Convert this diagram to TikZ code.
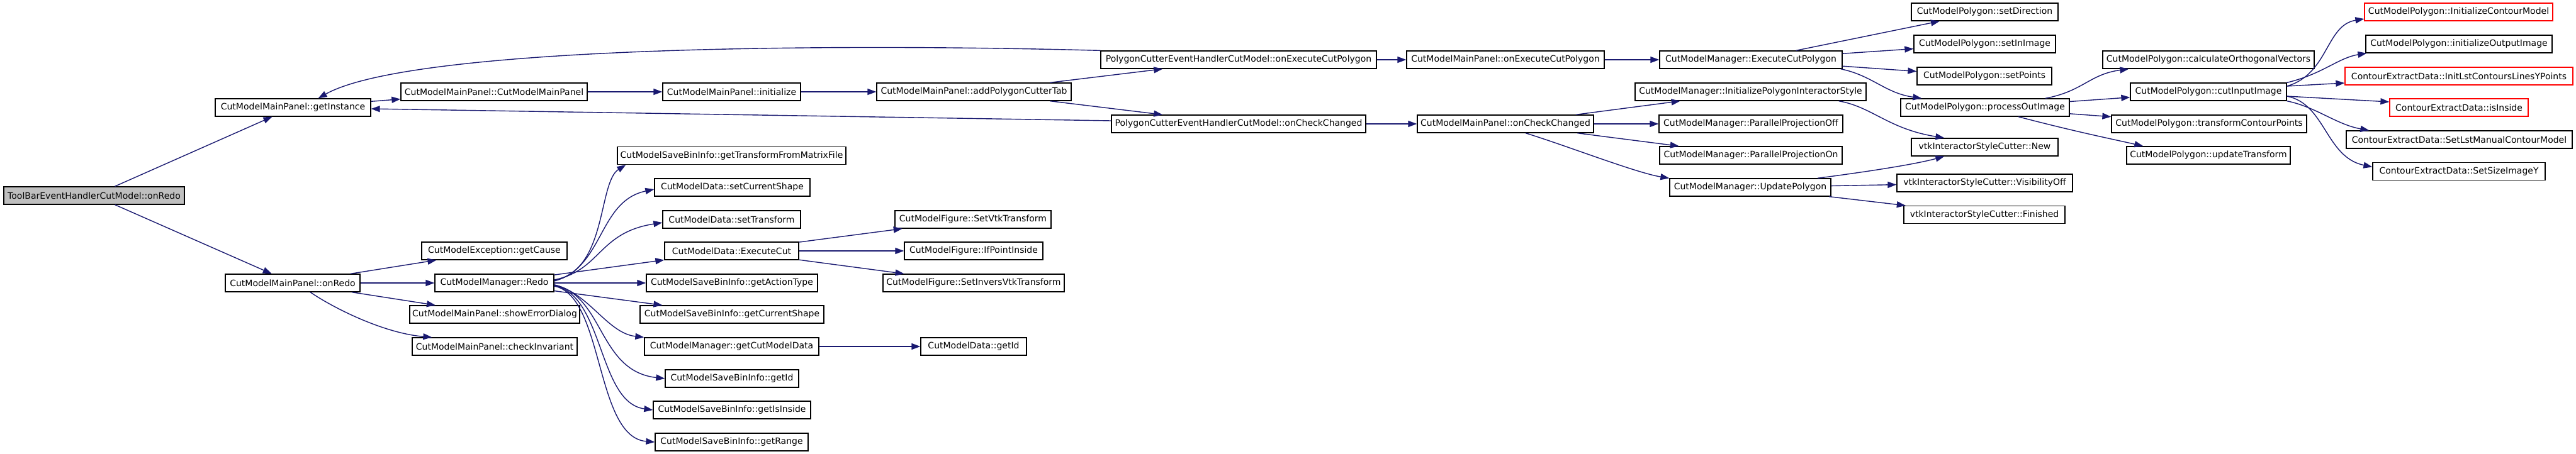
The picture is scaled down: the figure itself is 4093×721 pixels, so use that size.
\documentclass[tikz,border=0pt]{standalone}
\usepackage{fontspec}
\setmainfont{DejaVu Sans}
\usepackage{tikz}
\usetikzlibrary{arrows.meta}
\definecolor{edgeblue}{HTML}{191970}
\definecolor{rootgray}{HTML}{BFBFBF}

\begin{document}
\begin{tikzpicture}[x=1pt,y=1pt,
  fn/.style={draw=black,line width=1.3pt,fill=white,minimum height=28pt,inner xsep=1pt,inner ysep=0pt,font=\fontsize{14}{16}\selectfont},
  root/.style={fn,fill=rootgray},
  lost/.style={fn,draw=red},
  call/.style={draw=edgeblue,line width=1.4pt,-{Triangle[length=14pt,width=10pt]}}]
\useasboundingbox (0,0) rectangle (4093,-721);

% Callers of getInstance
\node[root,minimum width=287] (toolbar) at (149.5,-311) {ToolBarEventHandlerCutModel::onRedo};
\node[fn,minimum width=247] (getinst) at (465.5,-171) {CutModelMainPanel::getInstance};
\node[fn,minimum width=214] (onredo) at (465,-450) {CutModelMainPanel::onRedo};
\node[fn,minimum width=296] (cmmp) at (785,-146) {CutModelMainPanel::CutModelMainPanel};
\node[fn,minimum width=219] (init) at (1162.5,-146) {CutModelMainPanel::initialize};
\node[fn,minimum width=309] (addpct) at (1547.5,-146) {CutModelMainPanel::addPolygonCutterTab};
\node[fn,minimum width=438] (pcehexe) at (1968,-95) {PolygonCutterEventHandlerCutModel::onExecuteCutPolygon};
\node[fn,minimum width=404] (pcehchk) at (1968,-197) {PolygonCutterEventHandlerCutModel::onCheckChanged};
\node[fn,minimum width=314] (mpexe) at (2392,-95) {CutModelMainPanel::onExecuteCutPolygon};
\node[fn,minimum width=280] (mpchk) at (2392,-197) {CutModelMainPanel::onCheckChanged};

% Manager calls
\node[fn,minimum width=290] (mgrecp) at (2782,-95) {CutModelManager::ExecuteCutPolygon};
\node[fn,minimum width=367] (mgripis) at (2781.5,-146) {CutModelManager::InitializePolygonInteractorStyle};
\node[fn,minimum width=292] (mgrppoff) at (2782,-197) {CutModelManager::ParallelProjectionOff};
\node[fn,minimum width=290] (mgrppon) at (2782,-247) {CutModelManager::ParallelProjectionOn};
\node[fn,minimum width=256] (mgrupd) at (2781,-298) {CutModelManager::UpdatePolygon};
\node[fn,minimum width=233] (setdir) at (3153.5,-19) {CutModelPolygon::setDirection};
\node[fn,minimum width=225] (setinimg) at (3153.5,-70) {CutModelPolygon::setInImage};
\node[fn,minimum width=214] (setpts) at (3153,-121) {CutModelPolygon::setPoints};
\node[fn,minimum width=268] (procout) at (3154,-171) {CutModelPolygon::processOutImage};
\node[fn,minimum width=233] (stynew) at (3153.5,-234) {vtkInteractorStyleCutter::New};
\node[fn,minimum width=279] (styvis) at (3153.5,-291) {vtkInteractorStyleCutter::VisibilityOff};
\node[fn,minimum width=256] (styfin) at (3153,-341.5) {vtkInteractorStyleCutter::Finished};

% Polygon cutting
\node[fn,minimum width=336] (calcorth) at (3509,-95) {CutModelPolygon::calculateOrthogonalVectors};
\node[fn,minimum width=248] (cutin) at (3509,-146) {CutModelPolygon::cutInputImage};
\node[fn,minimum width=310] (trcont) at (3510,-197) {CutModelPolygon::transformContourPoints};
\node[fn,minimum width=260] (updtr) at (3509,-247) {CutModelPolygon::updateTransform};
\node[lost,minimum width=299] (initcm) at (3906.5,-19) {CutModelPolygon::InitializeContourModel};
\node[fn,minimum width=296] (initout) at (3907,-70) {CutModelPolygon::initializeOutputImage};
\node[lost,minimum width=362] (initlst) at (3907,-121) {ContourExtractData::InitLstContoursLinesYPoints};
\node[lost,minimum width=220] (isin) at (3907,-171) {ContourExtractData::isInside};
\node[fn,minimum width=359] (setlst) at (3907.5,-222) {ContourExtractData::SetLstManualContourModel};
\node[fn,minimum width=274] (setsize) at (3907,-272.5) {ContourExtractData::SetSizeImageY};

% Redo branch
\node[fn,minimum width=231] (cause) at (785.5,-399) {CutModelException::getCause};
\node[fn,minimum width=189] (redo) at (785.5,-450) {CutModelManager::Redo};
\node[fn,minimum width=270] (errdlg) at (786,-500) {CutModelMainPanel::showErrorDialog};
\node[fn,minimum width=262] (chkinv) at (786,-551) {CutModelMainPanel::checkInvariant};
\node[fn,minimum width=363] (gtfm) at (1162.5,-247.5) {CutModelSaveBinInfo::getTransformFromMatrixFile};
\node[fn,minimum width=247] (scs) at (1163.5,-298) {CutModelData::setCurrentShape};
\node[fn,minimum width=219] (str) at (1162.5,-349) {CutModelData::setTransform};
\node[fn,minimum width=213] (exec) at (1162.5,-399) {CutModelData::ExecuteCut};
\node[fn,minimum width=272] (gat) at (1163,-450) {CutModelSaveBinInfo::getActionType};
\node[fn,minimum width=292] (gcs) at (1163,-500) {CutModelSaveBinInfo::getCurrentShape};
\node[fn,minimum width=277] (gcmd) at (1162.5,-551) {CutModelManager::getCutModelData};
\node[fn,minimum width=212] (sbid) at (1163,-602) {CutModelSaveBinInfo::getId};
\node[fn,minimum width=250] (sbin) at (1163,-652) {CutModelSaveBinInfo::getIsInside};
\node[fn,minimum width=243] (sbrng) at (1162.5,-703) {CutModelSaveBinInfo::getRange};
\node[fn,minimum width=248] (setvtk) at (1546,-349) {CutModelFigure::SetVtkTransform};
\node[fn,minimum width=220] (ifpt) at (1547,-399) {CutModelFigure::IfPointInside};
\node[fn,minimum width=288] (invvtk) at (1547,-450) {CutModelFigure::SetInversVtkTransform};
\node[fn,minimum width=168] (dataid) at (1547,-551) {CutModelData::getId};

% Upper chain
\draw[call] (toolbar) -- (getinst);
\draw[call] (toolbar) -- (onredo);
\draw[call] (getinst) -- (cmmp);
\draw[call] (cmmp) -- (init);
\draw[call] (init) -- (addpct);
\draw[call] (addpct) -- (pcehexe);
\draw[call] (addpct) -- (pcehchk);
\draw[call] (pcehexe.north west) .. controls (1300,-68) and (650,-75) .. ([xshift=40pt]getinst.north);
\draw[call] ([yshift=5pt]pcehchk.west) -- ([yshift=-2pt]getinst.east);
\draw[call] (pcehexe) -- (mpexe);
\draw[call] (pcehchk) -- (mpchk);
\draw[call] (mpexe) -- (mgrecp);
\draw[call] (mpchk) -- (mgripis);
\draw[call] (mpchk) -- (mgrppoff);
\draw[call] (mpchk) -- (mgrppon);
\draw[call] ([xshift=32pt]mpchk.south) .. controls (2490,-232) and (2600,-275) .. (mgrupd.north west);

% ExecuteCutPolygon and UpdatePolygon
\draw[call] (mgrecp) -- (setdir);
\draw[call] (mgrecp) -- (setinimg);
\draw[call] (mgrecp) -- (setpts);
\draw[call] ([xshift=-3pt]mgrecp.south east) .. controls (2975,-120) and (2995,-148) .. ([xshift=34pt]procout.north west);
\draw[call] ([xshift=-44pt]mgripis.south east) .. controls (2975,-170) and (3000,-205) .. ([xshift=53pt]stynew.north west);
\draw[call] ([xshift=107pt]mgrupd.north) .. controls (2960,-274) and (3040,-262) .. ([xshift=53pt]stynew.south west);
\draw[call] (mgrupd) -- (styvis);
\draw[call] (mgrupd) -- (styfin);

% processOutImage
\draw[call] ([xshift=96pt]procout.north) .. controls (3310,-145) and (3320,-118) .. ([xshift=42pt]calcorth.south west);
\draw[call] (procout) -- (cutin);
\draw[call] (procout) -- (trcont);
\draw[call] ([xshift=53pt]procout.south) .. controls (3300,-210) and (3360,-222) .. ([xshift=27pt]updtr.north west);

% cutInputImage
\draw[call] ([yshift=9pt]cutin.east) .. controls (3700,-118) and (3695,-40) .. ([yshift=-11pt]initcm.west);
\draw[call] (cutin.north east) .. controls (3690,-118) and (3715,-92) .. ([xshift=2pt]initout.south west);
\draw[call] ([yshift=9pt]cutin.east) -- ([yshift=-11pt]initlst.west);
\draw[call] ([yshift=-7pt]cutin.east) -- ([yshift=9pt]isin.west);
\draw[call] (cutin.south east) .. controls (3680,-170) and (3712,-198) .. ([xshift=37pt]setlst.north west);
\draw[call] ([yshift=-7pt]cutin.east) .. controls (3695,-165) and (3695,-250) .. ([yshift=7pt]setsize.west);

% onRedo
\draw[call] (onredo) -- (cause);
\draw[call] (onredo) -- (redo);
\draw[call] (onredo) -- (errdlg);
\draw[call] ([xshift=28pt]onredo.south) .. controls (530,-490) and (610,-530) .. ([xshift=32pt]chkinv.north west);

% Redo
\draw[call] ([yshift=4pt]redo.east) .. controls (965,-430) and (950,-290) .. ([xshift=14pt]gtfm.south west);
\draw[call] ([yshift=3pt]redo.east) .. controls (960,-425) and (950,-320) .. ([yshift=-3pt]scs.west);
\draw[call] ([yshift=5pt]redo.east) .. controls (955,-430) and (950,-370) .. ([yshift=-5pt]str.west);
\draw[call] (redo) -- (exec);
\draw[call] (redo) -- (gat);
\draw[call] (redo) -- (gcs);
\draw[call] ([yshift=-3pt]redo.east) .. controls (935,-465) and (965,-530) .. (gcmd.north west);
\draw[call] ([yshift=-3pt]redo.east) .. controls (960,-470) and (950,-590) .. (sbid.west);
\draw[call] ([yshift=-4pt]redo.east) .. controls (960,-470) and (950,-640) .. (sbin.west);
\draw[call] ([yshift=-5pt]redo.east) .. controls (960,-470) and (945,-695) .. (sbrng.west);
\draw[call] (exec) -- (setvtk);
\draw[call] (exec) -- (ifpt);
\draw[call] (exec) -- (invvtk);
\draw[call] (gcmd) -- (dataid);
\end{tikzpicture}
\end{document}
